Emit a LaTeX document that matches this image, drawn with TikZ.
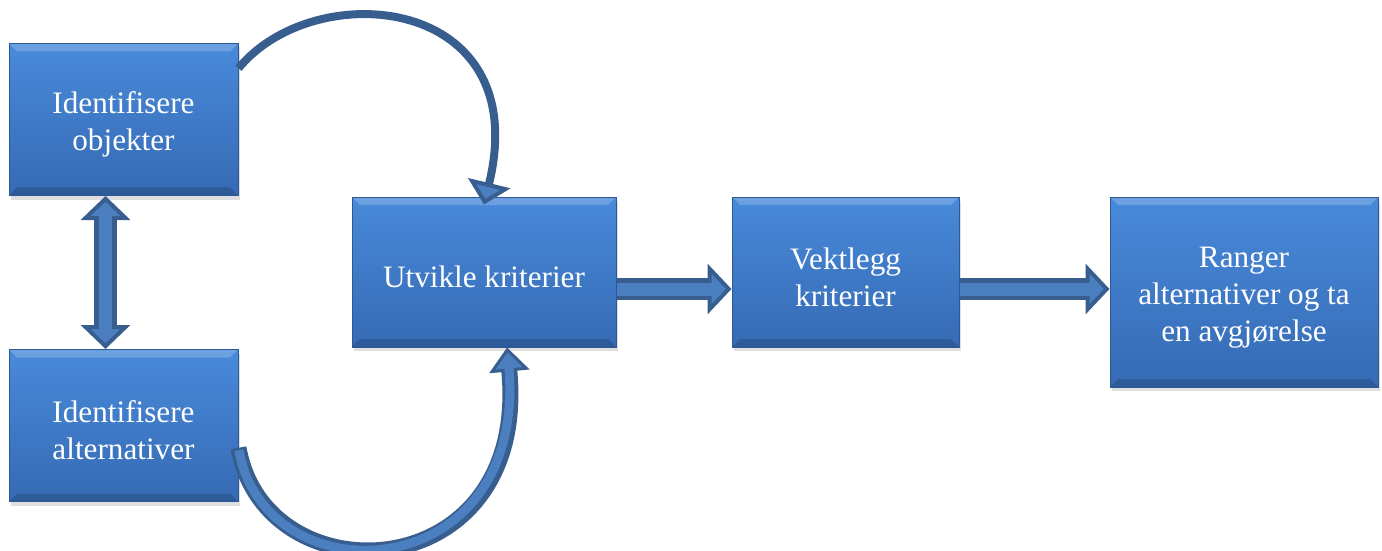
\documentclass[tikz,border=0pt]{standalone}
\usepackage{fontspec}
\setmainfont{Liberation Serif}
\usetikzlibrary{arrows.meta, positioning, shadows}

\definecolor{boxtop}{RGB}{72,138,218}
\definecolor{boxbottom}{RGB}{54,106,180}
\definecolor{boxedge}{RGB}{46,88,148}
\definecolor{arrowline}{RGB}{56,94,143}
\definecolor{arrowfill}{RGB}{76,127,192}

\newcommand{\firstline}{\rule{0pt}{16pt}}

\begin{document}
\begin{tikzpicture}[
    x=0.5pt, y=-0.5pt,
    box/.style={rectangle, draw=boxedge, line width=0.5pt,
      top color=boxtop, bottom color=boxbottom,
      drop shadow={shadow xshift=1pt, shadow yshift=-2pt, opacity=0.25},
      path picture={
        \fill[white, opacity=0.2] (path picture bounding box.north west)
          -- (path picture bounding box.north east)
          -- ([shift={(-4pt,-4pt)}]path picture bounding box.north east)
          -- ([shift={(4pt,-4pt)}]path picture bounding box.north west) -- cycle;
        \fill[black, opacity=0.15] (path picture bounding box.south west)
          -- (path picture bounding box.south east)
          -- ([shift={(-4pt,4pt)}]path picture bounding box.south east)
          -- ([shift={(4pt,4pt)}]path picture bounding box.south west) -- cycle;
      },
      minimum width=114.5pt, minimum height=75pt, align=center, text=white,
      font=\fontsize{15.6}{18.5}\selectfont},
    blockarrow/.style={draw=arrowline, line width=11pt,
      -{Triangle[length=12pt, width=25pt, line width=2pt, fill=arrowfill]},
      postaction={draw=arrowfill, line width=6.5pt, -, shorten >=8pt}},
    twinarrow/.style={draw=arrowline, line width=11.5pt,
      {Triangle[length=12pt, width=24.5pt, line width=2pt, fill=arrowfill]}-{Triangle[length=12pt, width=24.5pt, line width=2pt, fill=arrowfill]},
      postaction={draw=arrowfill, line width=6.5pt, -, shorten >=8pt, shorten <=8pt}},
    bendarrow/.style={draw=arrowline, line width=8pt,
      -{Triangle[length=12pt, width=20pt, line width=1.5pt, fill=arrowfill]},
      postaction={draw=arrowfill, line width=4.5pt, -, shorten >=8pt, shorten <=1.2pt}},
    thinarrow/.style={draw=arrowline, line width=4pt,
      -{Triangle[length=11pt, width=21.5pt, line width=2pt, fill=arrowfill]}}
]
\useasboundingbox (0,0) rectangle (1382,551);

\node[box, minimum height=76pt] (objekter) at (123.5,119.5) {\firstline Identifisere\\objekter};
\node[box, minimum height=76pt, below=76.5pt of objekter] (alternativer) {\firstline Identifisere\\alternativer};
\node[box, minimum width=132pt] (utvikle) at (484,272) {\firstline Utvikle kriterier};
\node[box, minimum width=113.5pt, right=57.5pt of utvikle] (vektlegg) {\firstline Vektlegg\\kriterier};
\node[box, minimum width=134pt, minimum height=95pt,
  below right=0pt and 75pt of vektlegg.north east] (ranger) {\firstline Ranger\\alternativer og ta\\en avgjørelse};

\draw[twinarrow] ([xshift=-9pt]objekter.south) -- ([xshift=-9pt]alternativer.north);
\draw[thinarrow] (objekter.24) .. controls (315,-25) and (535,-5) .. ([yshift=-4pt]utvikle.north);
\draw[bendarrow] (alternativer.-11) .. controls (265,600) and (530,590) .. (utvikle.-73);
\draw[blockarrow] ([yshift=-8.5pt]utvikle.east) -- ([yshift=-8.5pt]vektlegg.west);
\draw[blockarrow] ([yshift=-8.5pt]vektlegg.east) -- ([yshift=1.5pt]ranger.west);
\end{tikzpicture}
\end{document}
